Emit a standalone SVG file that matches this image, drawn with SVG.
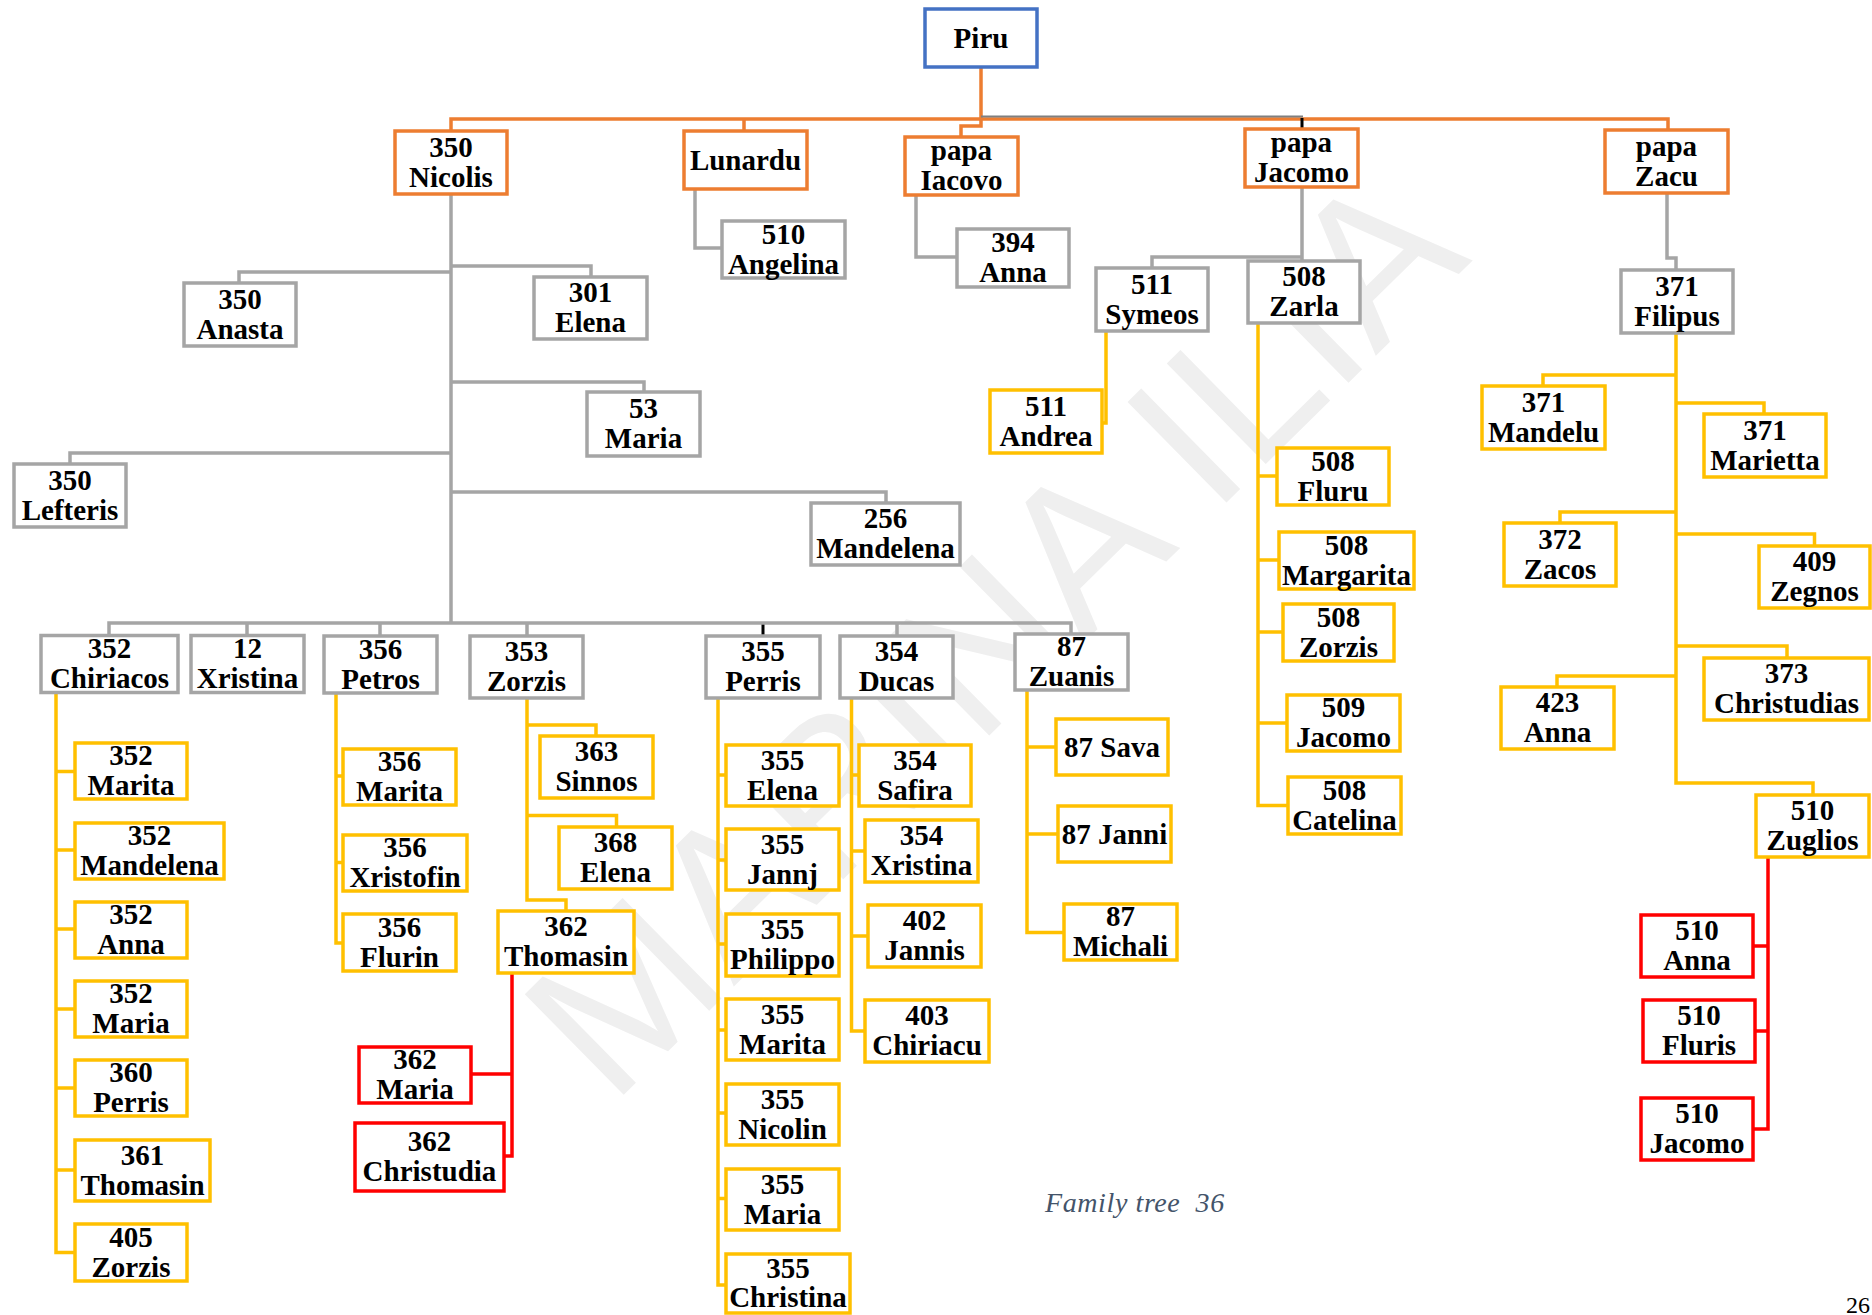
<svg xmlns="http://www.w3.org/2000/svg" width="1872" height="1315" viewBox="0 0 1872 1315">
<style>
.bx{fill:#fff;stroke-width:3.5}
.o{stroke:#ED7D31}.g{stroke:#A5A5A5}.y{stroke:#FFC000}.r{stroke:#FF0000}.b{stroke:#4472C4}
.ln{fill:none;stroke-width:3.5}
.t{font-family:"Liberation Serif","Times New Roman",serif;font-weight:bold;font-size:29px;text-anchor:middle;fill:#000}
</style>
<rect width="1872" height="1315" fill="#fff"/>
<text transform="translate(992,632) rotate(-44.5)" x="0" y="72" font-family="Liberation Sans, Arial, sans-serif" font-size="205" text-anchor="middle" fill="#EFEFEF">MARINA ILIA</text>
<g id="connectors">
<g class="ln o">
<path d="M981,67V126H961V137M451,131V119H1668V130M744,119V131"/>
</g>
<path d="M981,116.5H1303" fill="none" stroke="#7F7F7F" stroke-width="2"/>
<path d="M1302,118V129M763,623V636" fill="none" stroke="#000" stroke-width="3"/>
<g class="ln g">
<path d="M695,189V248H722M916,195V257H957M1302,187V261M1302,257H1152V268M1667,193V258H1676V270"/>
<path d="M451,194V623M451,266H591V277M451,272H239V283M451,382H644V392M451,453H70V464M451,492H886V503"/>
<path d="M109,636V623H1071V634M247,623V636M380,623V636M527,623V636M897,623V636"/>
</g>
<g class="ln y">
<path d="M56,692V1252.5H75M56,771.5H75M56,850H75M56,929H75M56,1009H75M56,1088H75M56,1170H75"/>
<path d="M336,693V943H343M336,776H343M336,862.5H343"/>
<path d="M527,698V900H566V911M527,725H596V736M527,815.5H616.5V827"/>
<path d="M718,698V1285H726M718,775H726M718,860H726M718,944H726M718,1030H726M718,1113H726M718,1198.5H726"/>
<path d="M851.5,698V1031H865M851.5,775H859M851.5,851H865M851.5,936H868"/>
<path d="M1027,690V932.5H1064M1027,747H1056M1027,834H1058"/>
<path d="M1106,331V423H1102"/>
<path d="M1258,323V805.5H1288M1258,476H1277M1258,560H1279M1258,632H1283M1258,723H1287"/>
<path d="M1676,333V783H1813V795M1676,375H1543V386M1676,403H1764V414M1676,512H1560V523M1676,534H1814.5V546M1676,646H1787V658M1676,676H1557V687"/>
</g>
<g class="ln r">
<path d="M512,973V1156H504.5M471,1074H512"/>
<path d="M1768,857V1129H1753M1753,946H1768M1755,1031H1768"/>
</g>
</g>
<g id="n-piru"><rect class="bx b" x="925" y="9" width="112" height="58"/><text class="t" x="981" y="47.5">Piru</text></g>
<g id="n-nicolis"><rect class="bx o" x="395" y="131" width="112" height="63"/><text class="t"><tspan x="451" y="156.5">350</tspan><tspan x="451" y="186.5">Nicolis</tspan></text></g>
<g id="n-lunardu"><rect class="bx o" x="684" y="131" width="123" height="58"/><text class="t" x="745.5" y="169.5">Lunardu</text></g>
<g id="n-iacovo"><rect class="bx o" x="905" y="137" width="113" height="58"/><text class="t"><tspan x="961.5" y="160">papa</tspan><tspan x="961.5" y="190">Iacovo</tspan></text></g>
<g id="n-jacomo"><rect class="bx o" x="1245" y="129" width="113" height="58"/><text class="t"><tspan x="1301.5" y="152">papa</tspan><tspan x="1301.5" y="182">Jacomo</tspan></text></g>
<g id="n-zacu"><rect class="bx o" x="1605" y="130" width="123" height="63"/><text class="t"><tspan x="1666.5" y="155.5">papa</tspan><tspan x="1666.5" y="185.5">Zacu</tspan></text></g>
<g id="n-angelina"><rect class="bx g" x="722" y="221" width="123" height="57"/><text class="t"><tspan x="783.5" y="243.5">510</tspan><tspan x="783.5" y="273.5">Angelina</tspan></text></g>
<g id="n-anna394"><rect class="bx g" x="957" y="229" width="112" height="58"/><text class="t"><tspan x="1013" y="252">394</tspan><tspan x="1013" y="282">Anna</tspan></text></g>
<g id="n-symeos"><rect class="bx g" x="1096" y="268" width="112" height="63"/><text class="t"><tspan x="1152" y="293.5">511</tspan><tspan x="1152" y="323.5">Symeos</tspan></text></g>
<g id="n-zarla"><rect class="bx g" x="1248" y="261" width="112" height="62"/><text class="t"><tspan x="1304" y="286">508</tspan><tspan x="1304" y="316">Zarla</tspan></text></g>
<g id="n-filipus"><rect class="bx g" x="1621" y="270" width="112" height="63"/><text class="t"><tspan x="1677" y="295.5">371</tspan><tspan x="1677" y="325.5">Filipus</tspan></text></g>
<g id="n-elena301"><rect class="bx g" x="534" y="277" width="113" height="62"/><text class="t"><tspan x="590.5" y="302">301</tspan><tspan x="590.5" y="332">Elena</tspan></text></g>
<g id="n-anasta"><rect class="bx g" x="184" y="283" width="112" height="63"/><text class="t"><tspan x="240" y="308.5">350</tspan><tspan x="240" y="338.5">Anasta</tspan></text></g>
<g id="n-maria53"><rect class="bx g" x="587" y="392" width="113" height="64"/><text class="t"><tspan x="643.5" y="418">53</tspan><tspan x="643.5" y="448">Maria</tspan></text></g>
<g id="n-lefteris"><rect class="bx g" x="14" y="464" width="112" height="63"/><text class="t"><tspan x="70" y="489.5">350</tspan><tspan x="70" y="519.5">Lefteris</tspan></text></g>
<g id="n-mandelena256"><rect class="bx g" x="811" y="503" width="149" height="62"/><text class="t"><tspan x="885.5" y="528">256</tspan><tspan x="885.5" y="558">Mandelena</tspan></text></g>
<g id="n-chiriacos"><rect class="bx g" x="41" y="635.5" width="137" height="57"/><text class="t"><tspan x="109.5" y="658">352</tspan><tspan x="109.5" y="688">Chiriacos</tspan></text></g>
<g id="n-xristina12"><rect class="bx g" x="191" y="635.5" width="113" height="57"/><text class="t"><tspan x="247.5" y="658">12</tspan><tspan x="247.5" y="688">Xristina</tspan></text></g>
<g id="n-petros"><rect class="bx g" x="324" y="636" width="113" height="57"/><text class="t"><tspan x="380.5" y="658.5">356</tspan><tspan x="380.5" y="688.5">Petros</tspan></text></g>
<g id="n-zorzis353"><rect class="bx g" x="470" y="636" width="113" height="62"/><text class="t"><tspan x="526.5" y="661">353</tspan><tspan x="526.5" y="691">Zorzis</tspan></text></g>
<g id="n-perris355"><rect class="bx g" x="706" y="636" width="114" height="62"/><text class="t"><tspan x="763" y="661">355</tspan><tspan x="763" y="691">Perris</tspan></text></g>
<g id="n-ducas"><rect class="bx g" x="840" y="636" width="113" height="62"/><text class="t"><tspan x="896.5" y="661">354</tspan><tspan x="896.5" y="691">Ducas</tspan></text></g>
<g id="n-zuanis"><rect class="bx g" x="1015" y="634" width="113" height="56"/><text class="t"><tspan x="1071.5" y="656">87</tspan><tspan x="1071.5" y="686">Zuanis</tspan></text></g>
<g id="n-marita352"><rect class="bx y" x="75" y="743" width="112" height="56"/><text class="t"><tspan x="131" y="765">352</tspan><tspan x="131" y="795">Marita</tspan></text></g>
<g id="n-mandelena352"><rect class="bx y" x="75" y="823" width="149" height="56"/><text class="t"><tspan x="149.5" y="845">352</tspan><tspan x="149.5" y="875">Mandelena</tspan></text></g>
<g id="n-anna352"><rect class="bx y" x="75" y="902" width="112" height="56"/><text class="t"><tspan x="131" y="924">352</tspan><tspan x="131" y="954">Anna</tspan></text></g>
<g id="n-maria352"><rect class="bx y" x="75" y="981" width="112" height="56"/><text class="t"><tspan x="131" y="1003">352</tspan><tspan x="131" y="1033">Maria</tspan></text></g>
<g id="n-perris360"><rect class="bx y" x="75" y="1060" width="112" height="56"/><text class="t"><tspan x="131" y="1082">360</tspan><tspan x="131" y="1112">Perris</tspan></text></g>
<g id="n-thomasin361"><rect class="bx y" x="75" y="1140" width="135" height="61"/><text class="t"><tspan x="142.5" y="1164.5">361</tspan><tspan x="142.5" y="1194.5">Thomasin</tspan></text></g>
<g id="n-zorzis405"><rect class="bx y" x="75" y="1224" width="112" height="57"/><text class="t"><tspan x="131" y="1246.5">405</tspan><tspan x="131" y="1276.5">Zorzis</tspan></text></g>
<g id="n-marita356"><rect class="bx y" x="343" y="749" width="113" height="56"/><text class="t"><tspan x="399.5" y="771">356</tspan><tspan x="399.5" y="801">Marita</tspan></text></g>
<g id="n-xristofin"><rect class="bx y" x="343" y="835" width="124" height="56"/><text class="t"><tspan x="405" y="857">356</tspan><tspan x="405" y="887">Xristofin</tspan></text></g>
<g id="n-flurin"><rect class="bx y" x="343" y="914" width="113" height="57"/><text class="t"><tspan x="399.5" y="936.5">356</tspan><tspan x="399.5" y="966.5">Flurin</tspan></text></g>
<g id="n-sinnos"><rect class="bx y" x="540" y="736" width="113" height="62"/><text class="t"><tspan x="596.5" y="761">363</tspan><tspan x="596.5" y="791">Sinnos</tspan></text></g>
<g id="n-elena368"><rect class="bx y" x="559" y="827" width="113" height="62"/><text class="t"><tspan x="615.5" y="852">368</tspan><tspan x="615.5" y="882">Elena</tspan></text></g>
<g id="n-thomasin362"><rect class="bx y" x="498" y="911" width="136" height="62"/><text class="t"><tspan x="566" y="936">362</tspan><tspan x="566" y="966">Thomasin</tspan></text></g>
<g id="n-maria362"><rect class="bx r" x="359" y="1047" width="112" height="56"/><text class="t"><tspan x="415" y="1069">362</tspan><tspan x="415" y="1099">Maria</tspan></text></g>
<g id="n-christudia362"><rect class="bx r" x="355" y="1123" width="149" height="68"/><text class="t"><tspan x="429.5" y="1151">362</tspan><tspan x="429.5" y="1181">Christudia</tspan></text></g>
<g id="n-elena355"><rect class="bx y" x="726" y="745" width="113" height="61"/><text class="t"><tspan x="782.5" y="769.5">355</tspan><tspan x="782.5" y="799.5">Elena</tspan></text></g>
<g id="n-jannj"><rect class="bx y" x="726" y="829" width="113" height="61"/><text class="t"><tspan x="782.5" y="853.5">355</tspan><tspan x="782.5" y="883.5">Jannj</tspan></text></g>
<g id="n-philippo"><rect class="bx y" x="726" y="914" width="113" height="62"/><text class="t"><tspan x="782.5" y="939">355</tspan><tspan x="782.5" y="969">Philippo</tspan></text></g>
<g id="n-marita355"><rect class="bx y" x="726" y="999" width="113" height="61"/><text class="t"><tspan x="782.5" y="1023.5">355</tspan><tspan x="782.5" y="1053.5">Marita</tspan></text></g>
<g id="n-nicolin"><rect class="bx y" x="726" y="1084" width="113" height="61"/><text class="t"><tspan x="782.5" y="1108.5">355</tspan><tspan x="782.5" y="1138.5">Nicolin</tspan></text></g>
<g id="n-maria355"><rect class="bx y" x="726" y="1169" width="113" height="61"/><text class="t"><tspan x="782.5" y="1193.5">355</tspan><tspan x="782.5" y="1223.5">Maria</tspan></text></g>
<g id="n-christina355"><rect class="bx y" x="726" y="1254" width="124" height="59"/><text class="t"><tspan x="788" y="1278">355</tspan><tspan x="788" y="1307">Christina</tspan></text></g>
<g id="n-safira"><rect class="bx y" x="859" y="745" width="112" height="61"/><text class="t"><tspan x="915" y="769.5">354</tspan><tspan x="915" y="799.5">Safira</tspan></text></g>
<g id="n-xristina354"><rect class="bx y" x="865" y="820" width="113" height="62"/><text class="t"><tspan x="921.5" y="845">354</tspan><tspan x="921.5" y="875">Xristina</tspan></text></g>
<g id="n-jannis402"><rect class="bx y" x="868" y="905" width="113" height="62"/><text class="t"><tspan x="924.5" y="930">402</tspan><tspan x="924.5" y="960">Jannis</tspan></text></g>
<g id="n-chiriacu"><rect class="bx y" x="865" y="1000" width="124" height="62"/><text class="t"><tspan x="927" y="1025">403</tspan><tspan x="927" y="1055">Chiriacu</tspan></text></g>
<g id="n-sava"><rect class="bx y" x="1056" y="719" width="112" height="56"/><text class="t" x="1112" y="756.5">87 Sava</text></g>
<g id="n-janni"><rect class="bx y" x="1058" y="806" width="113" height="56"/><text class="t" x="1114.5" y="843.5">87 Janni</text></g>
<g id="n-michali"><rect class="bx y" x="1064" y="904" width="113" height="56"/><text class="t"><tspan x="1120.5" y="926">87</tspan><tspan x="1120.5" y="956">Michali</tspan></text></g>
<g id="n-andrea"><rect class="bx y" x="990" y="390" width="112" height="63"/><text class="t"><tspan x="1046" y="415.5">511</tspan><tspan x="1046" y="445.5">Andrea</tspan></text></g>
<g id="n-fluru"><rect class="bx y" x="1277" y="448" width="112" height="57"/><text class="t"><tspan x="1333" y="470.5">508</tspan><tspan x="1333" y="500.5">Fluru</tspan></text></g>
<g id="n-margarita"><rect class="bx y" x="1279" y="532" width="135" height="57"/><text class="t"><tspan x="1346.5" y="554.5">508</tspan><tspan x="1346.5" y="584.5">Margarita</tspan></text></g>
<g id="n-zorzis508"><rect class="bx y" x="1283" y="604" width="111" height="57"/><text class="t"><tspan x="1338.5" y="626.5">508</tspan><tspan x="1338.5" y="656.5">Zorzis</tspan></text></g>
<g id="n-jacomo509"><rect class="bx y" x="1287" y="695" width="113" height="56"/><text class="t"><tspan x="1343.5" y="717">509</tspan><tspan x="1343.5" y="747">Jacomo</tspan></text></g>
<g id="n-catelina"><rect class="bx y" x="1288" y="777" width="113" height="57"/><text class="t"><tspan x="1344.5" y="799.5">508</tspan><tspan x="1344.5" y="829.5">Catelina</tspan></text></g>
<g id="n-mandelu"><rect class="bx y" x="1482" y="386" width="123" height="63"/><text class="t"><tspan x="1543.5" y="411.5">371</tspan><tspan x="1543.5" y="441.5">Mandelu</tspan></text></g>
<g id="n-marietta"><rect class="bx y" x="1704" y="414" width="122" height="63"/><text class="t"><tspan x="1765" y="439.5">371</tspan><tspan x="1765" y="469.5">Marietta</tspan></text></g>
<g id="n-zacos"><rect class="bx y" x="1504" y="523" width="112" height="63"/><text class="t"><tspan x="1560" y="548.5">372</tspan><tspan x="1560" y="578.5">Zacos</tspan></text></g>
<g id="n-zegnos"><rect class="bx y" x="1759" y="546" width="111" height="62"/><text class="t"><tspan x="1814.5" y="571">409</tspan><tspan x="1814.5" y="601">Zegnos</tspan></text></g>
<g id="n-anna423"><rect class="bx y" x="1501" y="687" width="113" height="62"/><text class="t"><tspan x="1557.5" y="712">423</tspan><tspan x="1557.5" y="742">Anna</tspan></text></g>
<g id="n-christudias"><rect class="bx y" x="1704" y="658" width="165" height="62"/><text class="t"><tspan x="1786.5" y="683">373</tspan><tspan x="1786.5" y="713">Christudias</tspan></text></g>
<g id="n-zuglios"><rect class="bx y" x="1756" y="795" width="113" height="62"/><text class="t"><tspan x="1812.5" y="820">510</tspan><tspan x="1812.5" y="850">Zuglios</tspan></text></g>
<g id="n-anna510"><rect class="bx r" x="1641" y="915" width="112" height="62"/><text class="t"><tspan x="1697" y="940">510</tspan><tspan x="1697" y="970">Anna</tspan></text></g>
<g id="n-fluris"><rect class="bx r" x="1643" y="1000" width="112" height="62"/><text class="t"><tspan x="1699" y="1025">510</tspan><tspan x="1699" y="1055">Fluris</tspan></text></g>
<g id="n-jacomo510"><rect class="bx r" x="1641" y="1098" width="112" height="62"/><text class="t"><tspan x="1697" y="1123">510</tspan><tspan x="1697" y="1153">Jacomo</tspan></text></g>
<text x="1045" y="1211.5" font-family="Liberation Serif, 'Times New Roman', serif" font-style="italic" font-size="28" letter-spacing="0.6" fill="#44546A" xml:space="preserve">Family tree  36</text>
<text x="1846" y="1313" font-family="Liberation Serif, 'Times New Roman', serif" font-size="24" fill="#000">26</text>
</svg>
